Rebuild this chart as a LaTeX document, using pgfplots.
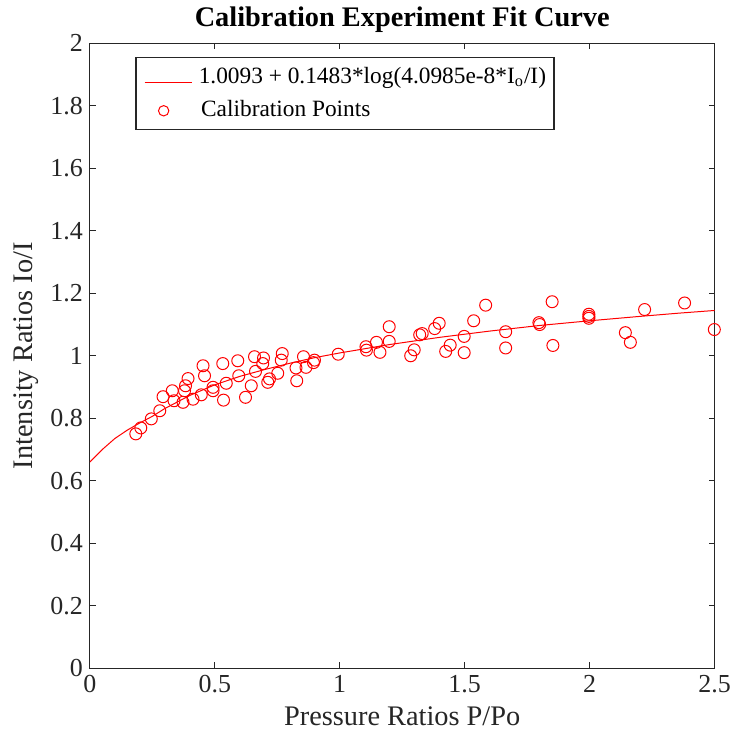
\documentclass[border=0pt]{standalone}
\usepackage{pgfplots}
\pgfplotsset{compat=1.18}
\usepackage{fontspec}
\setmainfont{Liberation Serif}

\definecolor{axgray}{RGB}{38,38,38}

\begin{document}
\begin{tikzpicture}
\begin{axis}[
	name=main,
	scale only axis,
	width=313pt, height=313pt,
	xmin=0, xmax=2.5,
	ymin=0, ymax=2,
	xtick={0,0.5,...,2.5},
	ytick={0,0.2,...,2},
	yticklabels={0,0.2,0.4,0.6,0.8,1,1.2,1.4,1.6,1.8,2},
	xticklabels={0,0.5,1,1.5,2,2.5},
	tick align=inside,
	major tick length=3pt,
	axis line style={axgray, line width=0.6pt},
	tick style={axgray, line width=0.6pt},
	tick label style={font=\rmfamily\fontsize{13}{15}\selectfont, text=axgray},
	label style={font=\rmfamily\fontsize{14.2}{16}\selectfont, text=axgray},
	xlabel={Pressure Ratios P/Po},
	ylabel={Intensity Ratios Io/I},
	xlabel style={yshift=0pt},
	ylabel style={yshift=-1pt},
	title={\textbf{Calibration Experiment Fit Curve}},
	title style={font=\rmfamily\fontsize{14.2}{16}\selectfont, yshift=-4pt},
	legend style={at={(0.073,0.979)}, anchor=north west,
		draw=axgray, line width=0.6pt,
		font=\rmfamily\fontsize{11.7}{14}\selectfont,
		inner xsep=2pt, inner ysep=3pt,
		row sep=3pt},
	legend cell align=left,
	legend image code/.code={},
]

% fit curve
\addplot[color=red, line width=0.5pt, mark=none]
coordinates {
(0,0.660)
(0.05,0.700)
(0.1,0.735)
(0.15,0.762)
(0.2,0.785)
(0.25,0.806)
(0.3,0.831)
(0.4,0.873)
(0.5,0.907)
(0.6,0.934)
(0.7,0.956)
(0.8,0.976)
(0.9,0.994)
(1.0,1.009)
(1.2,1.036)
(1.4,1.059)
(1.6,1.079)
(1.8,1.097)
(2.0,1.112)
(2.2,1.126)
(2.35,1.136)
(2.5,1.145)
};
\addlegendimage{}
\addlegendentry{\tikz\draw[draw=red, line width=0.5pt] (0,0.6ex) -- (24pt,0.6ex); 1.0093 + 0.1483*log(4.0985e-8*I$_\mathrm{o}$/I)}

% calibration points
\addplot[only marks, mark=o, mark size=3pt, color=red, mark options={line width=0.5pt}]
coordinates {
(0.184,0.750)
(0.204,0.769)
(0.246,0.798)
(0.280,0.824)
(0.293,0.869)
(0.330,0.888)
(0.337,0.856)
(0.373,0.851)
(0.379,0.888)
(0.383,0.904)
(0.393,0.927)
(0.413,0.861)
(0.446,0.875)
(0.453,0.968)
(0.459,0.936)
(0.493,0.899)
(0.493,0.888)
(0.532,0.975)
(0.535,0.858)
(0.546,0.912)
(0.592,0.984)
(0.596,0.936)
(0.623,0.867)
(0.646,0.904)
(0.659,0.997)
(0.663,0.950)
(0.692,0.975)
(0.695,0.993)
(0.712,0.915)
(0.719,0.926)
(0.752,0.944)
(0.766,0.986)
(0.770,1.007)
(0.825,0.961)
(0.828,0.920)
(0.855,0.997)
(0.865,0.963)
(0.895,0.978)
(0.899,0.986)
(0.994,1.005)
(1.105,1.029)
(1.107,1.018)
(1.147,1.043)
(1.161,1.011)
(1.198,1.093)
(1.198,1.046)
(1.284,1.000)
(1.298,1.019)
(1.320,1.067)
(1.330,1.071)
(1.380,1.087)
(1.398,1.104)
(1.424,1.014)
(1.442,1.034)
(1.498,1.010)
(1.498,1.062)
(1.536,1.112)
(1.584,1.162)
(1.664,1.077)
(1.664,1.025)
(1.797,1.106)
(1.800,1.100)
(1.850,1.173)
(1.853,1.033)
(1.997,1.133)
(1.997,1.120)
(1.997,1.126)
(2.143,1.074)
(2.163,1.043)
(2.220,1.148)
(2.380,1.169)
(2.499,1.084)
};
\addlegendimage{}
\addlegendentry{\hspace{7pt}\tikz\draw[draw=red, line width=0.5pt] (0,0) circle (2.6pt);\hspace{13pt} Calibration Points}
\end{axis}
\path[use as bounding box] (main.south west) ++(-45pt,-37pt) rectangle ([xshift=8.5pt,yshift=21pt]main.north east);
\end{tikzpicture}
\end{document}
